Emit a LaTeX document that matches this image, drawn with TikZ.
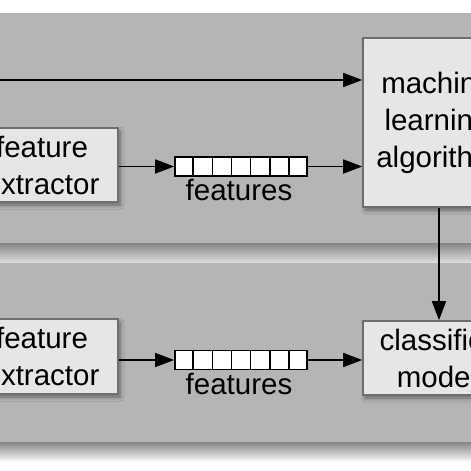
\documentclass[tikz,border=0pt]{standalone}
\usepackage{fontspec}
\setmainfont{Liberation Sans}
\usetikzlibrary{arrows.meta,shadows.blur,calc}
\definecolor{panelgray}{HTML}{B5B5B5}
\definecolor{boxfill}{HTML}{E6E6E6}
\definecolor{boxedge}{HTML}{6E6E6E}
\tikzset{
  procbox/.style={draw=boxedge, line width=1.6pt, fill=boxfill, align=center,
    inner sep=0pt, font=\fontsize{29.5}{37}\selectfont,
    blur shadow={shadow xshift=2pt, shadow yshift=-3pt, shadow blur steps=6, shadow blur radius=4pt, shadow opacity=45}},
  vecbox/.style={draw=black, line width=1.7pt, fill=white, inner sep=0pt,
    minimum width=132pt, minimum height=19pt},
  cellline/.style={line width=1.7pt},
  lbl/.style={font=\fontsize{29.5}{35}\selectfont, inner sep=0pt},
  conn/.style={line width=1.7pt, -{Triangle[length=19pt,width=14pt]}},
  panel/.style={fill=panelgray, draw=none}
}
\begin{document}
\begin{tikzpicture}[x=1pt,y=-1pt]
\useasboundingbox (0,0) rectangle (471,471);
\clip (0,0) rectangle (471,471);
\fill[white] (0,0) rectangle (471,471);
% panel shadows
\shade[top color=black!48, bottom color=white!88!black] (-10,243) rectangle (481,263);
\shade[top color=black!48, bottom color=white] (-10,442) rectangle (481,462);
% panels
\fill[panel] (-10,13) rectangle (481,243);
\fill[panel] (-10,263) rectangle (481,442);
% top row
\node[procbox, minimum width=152pt, minimum height=74pt] (ext1) at (42,165) {feature\\extractor};
\node[vecbox] (vec1) at (241,166.5) {};
\foreach \k in {1,...,6}{\draw[cellline] ($(vec1.north west)!\k/7!(vec1.north east)$) -- ($(vec1.south west)!\k/7!(vec1.south east)$);}
\node[lbl, anchor=base] (f1) at (239,200) {features};
\node[procbox, minimum width=148pt, minimum height=169pt] (ml) at (437,122.5) {machine\\learning\\algorithm};
\coordinate (in1) at (-10,80);
% bottom row
\node[procbox, minimum width=152pt, minimum height=75pt] (ext2) at (42,356.5) {feature\\extractor};
\node[vecbox] (vec2) at (241,360) {};
\foreach \k in {1,...,6}{\draw[cellline] ($(vec2.north west)!\k/7!(vec2.north east)$) -- ($(vec2.south west)!\k/7!(vec2.south east)$);}
\node[lbl, anchor=base] (f2) at (239,394) {features};
\node[procbox, minimum width=148pt, minimum height=74pt] (cls) at (437,358) {classifier\\model};
% connectors
\draw[conn] (in1) -- (in1 -| ml.west);
\draw[conn] (ext1.east |- vec1) -- (vec1.west);
\draw[conn] (vec1.east) -- (vec1 -| ml.west);
\draw[conn] (ml.south -| 439,0) -- (cls.north -| 439,0);
\draw[conn] (ext2.east |- vec2) -- (vec2.west);
\draw[conn] (vec2.east) -- (vec2 -| cls.west);
\end{tikzpicture}
\end{document}
